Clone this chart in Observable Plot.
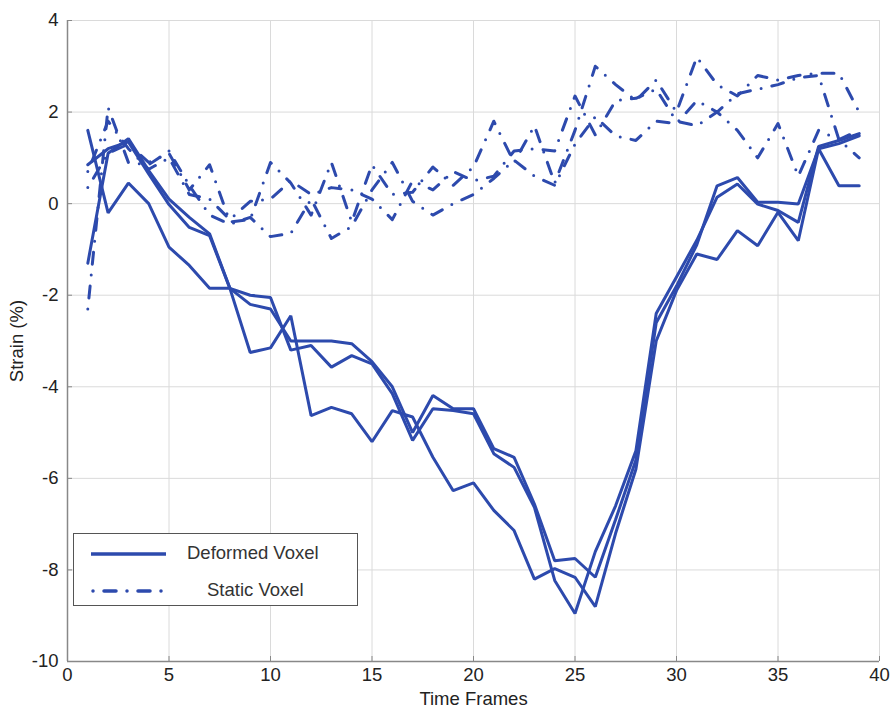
<!DOCTYPE html>
<html>
<head>
<meta charset="utf-8">
<script src="https://cdn.jsdelivr.net/npm/d3@7"></script>
<script src="https://cdn.jsdelivr.net/npm/@observablehq/plot@0.6"></script>
<style>
  html, body { margin: 0; padding: 0; background: #fff; }
  #wrap { position: relative; width: 893px; height: 709px; font-family: "Liberation Sans", Arial, sans-serif; }
  #legend { position: absolute; left: 73px; top: 533px; width: 285px; height: 73px; border: 1.5px solid #555; background: #fff; box-sizing: border-box; }
  #legend .lbl { position: absolute; font-size: 18.5px; color: #333; white-space: nowrap; }
</style>
</head>
<body>
<div id="wrap"></div>
<script>
// Time frames
const frames = [1,2,3,4,5,6,7,8,9,10,11,12,13,14,15,16,17,18,19,20,21,22,23,24,25,26,27,28,29,30,31,32,33,34,35,36,37,38,39];

// Deformed voxel strain (%)
const deformed1 = [1.6,-0.2,0.45,0.0,-0.95,-1.35,-1.85,-1.85,-2.0,-2.05,-3.2,-3.1,-3.57,-3.32,-3.5,-4.15,-5.17,-4.48,-4.52,-4.59,-5.46,-5.76,-6.63,-8.23,-8.95,-7.6,-6.6,-5.4,-2.4,-1.6,-0.8,0.14,0.43,-0.01,-0.15,-0.41,1.25,1.38,1.53];
const deformed2 = [-1.3,1.1,1.42,0.72,0.1,-0.3,-0.66,-1.85,-2.2,-2.3,-3.0,-3.0,-3.0,-3.06,-3.45,-4.0,-5.0,-4.19,-4.48,-4.48,-5.35,-5.54,-6.56,-7.8,-7.75,-8.16,-6.9,-5.6,-2.6,-1.8,-0.9,0.39,0.57,0.03,0.03,-0.01,1.2,0.39,0.39];
const deformed3 = [0.85,1.2,1.35,0.65,-0.02,-0.52,-0.7,-1.85,-3.25,-3.15,-2.45,-4.63,-4.45,-4.59,-5.2,-4.52,-4.66,-5.54,-6.27,-6.1,-6.7,-7.14,-8.2,-7.97,-8.16,-8.8,-7.2,-5.8,-3.0,-1.9,-1.1,-1.22,-0.59,-0.92,-0.19,-0.81,1.2,1.31,1.48];

// Static voxel strain (%)
const static1 = [0.35,1.1,1.3,0.9,1.1,0.3,0.85,-0.4,-0.35,0.9,0.45,-0.25,0.9,-0.4,0.85,0.2,0.25,0.8,0.4,0.8,1.8,0.9,1.7,0.45,1.6,3.0,2.6,2.25,2.7,2.0,3.2,2.6,2.35,2.8,2.7,2.8,2.85,2.85,2.0];
const static2 = [-2.3,2.1,0.9,0.85,1.15,0.4,-0.25,-0.45,-0.3,-0.72,-0.65,0.1,-0.76,-0.5,0.3,0.9,0.05,-0.25,0.0,0.2,0.55,0.95,0.6,0.4,1.3,1.9,1.48,1.38,1.8,1.75,2.25,2.0,2.4,2.5,2.6,2.75,2.8,1.4,1.0];
const static3 = [0.7,1.8,1.2,0.75,1.0,0.2,0.1,-0.35,0.05,0.1,0.5,0.2,0.35,0.3,0.1,-0.35,0.5,0.3,0.7,0.5,0.6,1.15,1.2,1.15,2.35,1.5,2.25,2.3,2.5,1.8,1.7,2.0,1.6,1.0,1.75,0.6,1.6,1.4,1.6];

// Axis ticks
const xTicks = [0,5,10,15,20,25,30,35,40];
const yTicks = [-10,-8,-6,-4,-2,0,2,4];

const blue = "#2d4aad";
const dashDot = "0,11,12,11";

function rows(name, kind, values) {
  return values.map((v, i) => ({frame: frames[i], strain: v, series: name, kind}));
}
const deformedData = [
  ...rows("d1", "Deformed Voxel", deformed1),
  ...rows("d2", "Deformed Voxel", deformed2),
  ...rows("d3", "Deformed Voxel", deformed3)
];
const staticData = [
  ...rows("s1", "Static Voxel", static1),
  ...rows("s2", "Static Voxel", static2),
  ...rows("s3", "Static Voxel", static3)
];

const chart = Plot.plot({
  width: 893,
  height: 709,
  marginLeft: 67,
  marginRight: 14,
  marginTop: 20,
  marginBottom: 48,
  style: {fontFamily: "'Liberation Sans', Arial, sans-serif", fontSize: "18.5px", color: "#333", background: "#fff"},
  x: {domain: [0, 40]},
  y: {domain: [-10, 4]},
  marks: [
    Plot.gridX(xTicks, {stroke: "#dadada", strokeOpacity: 1}),
    Plot.gridY(yTicks, {stroke: "#dadada", strokeOpacity: 1}),
    Plot.ruleX([0], {stroke: "#888", strokeWidth: 1.5}),
    Plot.ruleY([-10], {stroke: "#888", strokeWidth: 1.5}),
    Plot.axisX(xTicks, {tickSize: 5, dy: -5, text: null, stroke: "#888", label: null}),
    Plot.axisY(yTicks, {tickSize: 5, dx: 5, text: null, stroke: "#888", label: null}),
    Plot.axisX(xTicks, {tickSize: 0, tickPadding: 6, tickFormat: d => String(d), fill: "#222", fontSize: 18.5,
      label: "Time Frames", labelAnchor: "center", labelOffset: 43, labelArrow: "none"}),
    Plot.axisY(yTicks, {tickSize: 0, tickPadding: 9, tickFormat: d => String(d), fill: "#222", fontSize: 18.5,
      label: "Strain (%)", labelAnchor: "center", labelOffset: 58, labelArrow: "none"}),
    Plot.line(staticData, {x: "frame", y: "strain", z: "series", stroke: blue, strokeWidth: 3,
      strokeDasharray: dashDot, strokeLinecap: "round", strokeLinejoin: "round"}),
    Plot.line(deformedData, {x: "frame", y: "strain", z: "series", stroke: blue, strokeWidth: 3,
      strokeLinejoin: "miter"})
  ]
});

const wrap = document.getElementById("wrap");
wrap.appendChild(chart);

// Legend (inside plot area, lower left)
const legend = document.createElement("div");
legend.id = "legend";
legend.innerHTML = `
  <svg width="100" height="73" style="position:absolute;left:0;top:0">
    <line x1="17" x2="92" y1="20" y2="20" stroke="${blue}" stroke-width="3.5"/>
    <line x1="19" x2="90" y1="57" y2="57" stroke="${blue}" stroke-width="3.5" stroke-linecap="round" stroke-dasharray="${dashDot}"/>
  </svg>
  <div class="lbl" style="left:113px;top:8px">Deformed Voxel</div>
  <div class="lbl" style="left:133px;top:45px">Static Voxel</div>`;
wrap.appendChild(legend);
</script>
</body>
</html>
